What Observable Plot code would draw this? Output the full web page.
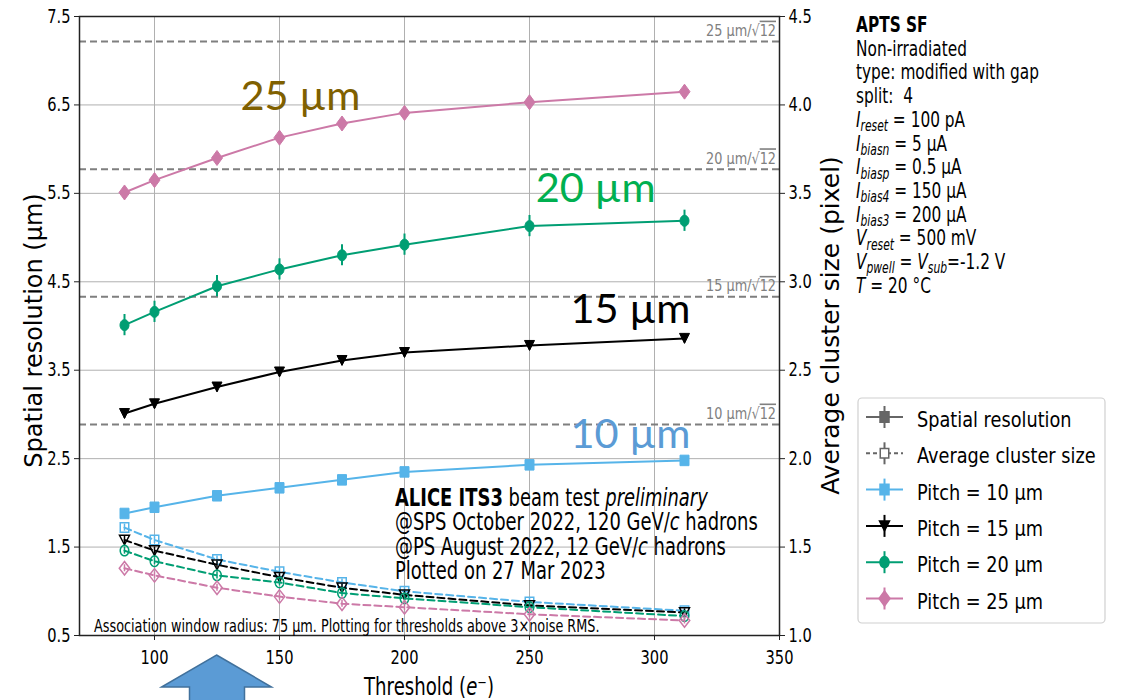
<!DOCTYPE html>
<html>
<head>
<meta charset="utf-8">
<script src="https://cdn.jsdelivr.net/npm/d3@7"></script>
<script src="https://cdn.jsdelivr.net/npm/@observablehq/plot@0.6"></script>
<style>
  html, body { margin: 0; padding: 0; background: #fff; }
  #chart { width: 1122px; height: 700px; overflow: hidden; }
</style>
</head>
<body>
<div id="chart"></div>
<script>
// ---------------- data ----------------
const thresholds = [88, 100, 125, 150, 175, 200, 250, 312];
const pitches = [10, 15, 20, 25];

const resolution10 = [1.88, 1.95, 2.08, 2.17, 2.26, 2.35, 2.43, 2.48];
const resolution15 = [3.01, 3.12, 3.31, 3.48, 3.61, 3.70, 3.78, 3.86];
const resolution20 = [4.01, 4.16, 4.45, 4.64, 4.80, 4.92, 5.13, 5.19];
const resolution25 = [5.51, 5.65, 5.90, 6.13, 6.29, 6.41, 6.53, 6.65];

const resolutionErr10 = [0.04, 0.04, 0.04, 0.04, 0.04, 0.04, 0.04, 0.04];
const resolutionErr15 = [0.05, 0.05, 0.05, 0.05, 0.05, 0.05, 0.05, 0.05];
const resolutionErr20 = [0.12, 0.12, 0.12, 0.12, 0.12, 0.12, 0.12, 0.12];
const resolutionErr25 = [0.06, 0.06, 0.06, 0.06, 0.06, 0.06, 0.06, 0.06];

const clusterSize10 = [1.61, 1.54, 1.43, 1.36, 1.30, 1.25, 1.19, 1.14];
const clusterSize15 = [1.54, 1.48, 1.40, 1.33, 1.27, 1.23, 1.17, 1.13];
const clusterSize20 = [1.48, 1.42, 1.34, 1.30, 1.24, 1.21, 1.16, 1.11];
const clusterSize25 = [1.38, 1.34, 1.27, 1.22, 1.18, 1.16, 1.12, 1.085];
const clusterSizeErr = [0.02, 0.02, 0.02, 0.02, 0.02, 0.02, 0.02, 0.02];

const xTicks = [100, 150, 200, 250, 300, 350];
const resolutionTicks = [0.5, 1.5, 2.5, 3.5, 4.5, 5.5, 6.5, 7.5];
const clusterTicks = [1.0, 1.5, 2.0, 2.5, 3.0, 3.5, 4.0, 4.5];
const limitPitches = [10, 15, 20, 25];          // pitch / sqrt(12) lines
const arrowThreshold = 125;

const pitchLabels = ["10 µm", "15 µm", "20 µm", "25 µm"];
const pitchLabelAnchors = [ // [threshold, resolution] of each label's baseline start
  [266.6, 2.615], [266.6, 4.03], [252.7, 5.40], [134.6, 6.44]
];
const infoLines = [
  [["APTS SF", "b"]],
  [["Non-irradiated"]],
  [["type: modified with gap"]],
  [["split:  4"]],
  [["I", "i"], ["reset", "sub"], [" = 100 pA"]],
  [["I", "i"], ["biasn", "sub"], [" = 5 µA"]],
  [["I", "i"], ["biasp", "sub"], [" = 0.5 µA"]],
  [["I", "i"], ["bias4", "sub"], [" = 150 µA"]],
  [["I", "i"], ["bias3", "sub"], [" = 200 µA"]],
  [["V", "i"], ["reset", "sub"], [" = 500 mV"]],
  [["V", "i"], ["pwell", "sub"], [" = "], ["V", "i"], ["sub", "sub"], ["=-1.2 V"]],
  [["T", "i"], [" = 20 °C"]]
];
const beamLines = [
  [["ALICE ITS3", "b"], [" beam test "], ["preliminary", "i"]],
  [["@SPS October 2022, 120 GeV/"], ["c", "i"], [" hadrons"]],
  [["@PS August 2022, 12 GeV/"], ["c", "i"], [" hadrons"]],
  [["Plotted on 27 Mar 2023"]]
];
const footnote = "Association window radius: 75 µm. Plotting for thresholds above 3×noise RMS.";
const legendLabels = ["Spatial resolution", "Average cluster size", "Pitch = 10 µm", "Pitch = 15 µm", "Pitch = 20 µm", "Pitch = 25 µm"];

// ---------------- setup ----------------
const resDomain = [0.5, 7.5], clsDomain = [1.0, 4.5];
const k = (resDomain[1] - resDomain[0]) / (clsDomain[1] - clsDomain[0]);
const clsToRes = v => resDomain[0] + (v - clsDomain[0]) * k;
const resToCls = v => clsDomain[0] + (v - resDomain[0]) / k;

const colors = {10: "#56b4e9", 15: "#000000", 20: "#009e73", 25: "#cc79a7"};
const labelColors = {10: "#5b9bd5", 15: "#000000", 20: "#00b050", 25: "#7f6000"};

const shape = {
  square: (w, h) => ({draw(c) { c.moveTo(-w/2, -h/2); c.lineTo(w/2, -h/2); c.lineTo(w/2, h/2); c.lineTo(-w/2, h/2); c.closePath(); }}),
  tridown: (w, h) => ({draw(c) { c.moveTo(-w/2, -h/2); c.lineTo(w/2, -h/2); c.lineTo(0, h/2); c.closePath(); }}),
  ellipse: (w, h) => ({draw(c) { for (let i = 0; i < 36; i++) { const a = i / 36 * 2 * Math.PI; const px = w/2 * Math.cos(a), py = h/2 * Math.sin(a); if (i) c.lineTo(px, py); else c.moveTo(px, py); } c.closePath(); }}),
  diamond: (w, h) => ({draw(c) { c.moveTo(0, -h/2); c.lineTo(w/2, 0); c.lineTo(0, h/2); c.lineTo(-w/2, 0); c.closePath(); }})
};
const filledSym = {10: shape.square(9, 10.5), 15: shape.tridown(10, 10), 20: shape.ellipse(9, 11), 25: shape.diamond(11, 15)};
const openSym = {10: shape.square(8.5, 9.5), 15: shape.tridown(10, 9.5), 20: shape.ellipse(8.5, 10.5), 25: shape.diamond(10.5, 13.5)};

const series = [
  {pitch: 10, res: resolution10, err: resolutionErr10, cls: clusterSize10},
  {pitch: 15, res: resolution15, err: resolutionErr15, cls: clusterSize15},
  {pitch: 20, res: resolution20, err: resolutionErr20, cls: clusterSize20},
  {pitch: 25, res: resolution25, err: resolutionErr25, cls: clusterSize25}
];
const rows = series.flatMap(s => thresholds.map((t, i) => ({
  pitch: s.pitch, t, res: s.res[i], err: s.err[i], cls: s.cls[i], clsErr: clusterSizeErr[i]
})));

const dataMarks = series.flatMap(s => {
  const d = rows.filter(r => r.pitch === s.pitch);
  const c = colors[s.pitch];
  return [
    Plot.line(d, {x: "t", y: "res", stroke: c, strokeWidth: 2}),
    Plot.ruleX(d, {x: "t", y1: r => r.res - r.err, y2: r => r.res + r.err, stroke: c, strokeWidth: 2}),
    Plot.dot(d, {x: "t", y: "res", symbol: filledSym[s.pitch], fill: c, stroke: c, strokeWidth: 1}),
    Plot.line(d, {x: "t", y: r => clsToRes(r.cls), stroke: c, strokeWidth: 2, strokeDasharray: "7,4"}),
    Plot.ruleX(d, {x: "t", y1: r => clsToRes(r.cls - r.clsErr), y2: r => clsToRes(r.cls + r.clsErr), stroke: c, strokeWidth: 1.5}),
    Plot.dot(d, {x: "t", y: r => clsToRes(r.cls), symbol: openSym[s.pitch], fill: "none", stroke: c, strokeWidth: 1.5})
  ];
});

const plot = Plot.plot({
  width: 1122, height: 700,
  marginLeft: 79, marginRight: 343, marginTop: 16, marginBottom: 65,
  x: {domain: [70, 350], axis: null},
  y: {domain: resDomain, axis: null},
  style: {fontFamily: "DejaVu Sans", fontSize: "19px", background: "#fff", color: "#000", overflow: "visible"},
  marks: [
    Plot.gridX(xTicks, {stroke: "#b0b0b0", strokeOpacity: 1, strokeWidth: 1}),
    Plot.gridY(resolutionTicks, {stroke: "#b0b0b0", strokeOpacity: 1, strokeWidth: 1}),
    Plot.ruleY(limitPitches, {y: p => p / Math.sqrt(12), stroke: "#7f7f7f", strokeWidth: 2, strokeDasharray: "7,4"}),
    ...dataMarks,
    Plot.axisX(xTicks, {tickSize: 5, tickPadding: 10, label: null, stroke: "#222"}),
    Plot.axisY(resolutionTicks, {anchor: "left", tickSize: 5, tickPadding: 4, tickFormat: d => d.toFixed(1), label: null, stroke: "#222"}),
    Plot.axisY(clusterTicks.map(clsToRes), {anchor: "right", tickSize: 5, tickPadding: 4, tickFormat: d => resToCls(d).toFixed(1), label: null, stroke: "#222"}),
    Plot.frame({stroke: "#222", strokeWidth: 1.5})
  ]
});
document.getElementById("chart").append(plot);

const svg = d3.select(plot);
const xs = plot.scale("x"), ys = plot.scale("y");
const X = v => xs.apply(v), Y = v => ys.apply(v);

// condense tick labels (reference text is horizontally narrow)
{
  const tickTexts = svg.selectAll('g[aria-label$="tick label"] text').nodes();
  let sx = 0.77;
  const t100 = tickTexts.find(n => n.textContent === "100");
  if (t100) { const L = t100.getComputedTextLength(); if (L > 0) sx = 28 / L; }
  tickTexts.forEach(n => {
    const t = n.getAttribute("transform") || "";
    n.setAttribute("transform", (t + ` scale(${sx},1)`).trim());
  });
}

// rich text helper
function richLine(parent, size, segments, opts = {}) {
  const g = parent.append("g");
  const t = g.append("text")
    .attr("font-family", opts.family || "DejaVu Sans")
    .attr("font-size", size)
    .attr("fill", opts.fill || "#000")
    .attr("text-anchor", opts.anchor || "start")
    .style("white-space", "pre");
  let shift = 0;
  for (const [str, st] of segments) {
    const ts = t.append("tspan").text(str);
    let target = 0;
    if (st === "b") ts.attr("font-weight", "bold");
    if (st === "i") ts.attr("font-style", "italic");
    if (st === "sub") { ts.attr("font-style", "italic").attr("font-size", size * 0.7); target = size * 0.2; }
    if (target !== shift) { ts.attr("dy", target - shift); shift = target; }
  }
  return {g, t, len: () => t.node().getComputedTextLength()};
}
function block(lines, x, y0, step, size, fitIndex, fitWidth, opts = {}) {
  const items = lines.map(l => richLine(svg, size, l, opts));
  const sx = fitWidth / items[fitIndex].len();
  items.forEach((it, i) => it.g.attr("transform", `translate(${x},${y0 + i * step}) scale(${sx},1)`));
  return items;
}

// pitch/sqrt(12) labels
limitPitches.forEach(p => {
  const it = richLine(svg, 16, [[`${p} µm/√`], ["12"]], {fill: "#808080", anchor: "end"});
  it.t.selectAll("tspan").filter((d, i) => i === 1).style("text-decoration", "overline");
  const sx = 70 / it.len();
  it.g.attr("transform", `translate(${X(350) - 3},${Y(p / Math.sqrt(12)) - 5}) scale(${sx},1)`);
});

// big pitch labels
pitches.forEach((p, i) => {
  const it = richLine(svg, 40, [[pitchLabels[i]]], {family: "Lato", fill: labelColors[p]});
  const sx = 120 / it.len();
  const [tx, tv] = pitchLabelAnchors[i];
  it.g.attr("transform", `translate(${X(tx)},${Y(tv)}) scale(${sx},1)`);
});

// beam test annotation and footnote
block(beamLines, 395, 506, 24.4, 24, 1, 363);
block([[[footnote]]], 94, 632, 0, 17, 0, 506);

// axis labels
{
  const it = richLine(svg, 25, [["Threshold ("], ["e", "i"], ["⁻"], [")"]], {anchor: "middle"});
  const sx = 130 / it.len();
  it.g.attr("transform", `translate(${(X(70) + X(350)) / 2},695) scale(${sx},1)`);
  const yl = richLine(svg, 24, [["Spatial resolution (µm)"]], {anchor: "middle"});
  yl.g.attr("transform", `translate(41.5,${(Y(0.5) + Y(7.5)) / 2 + 5}) rotate(-90)`);
  const yr = richLine(svg, 25, [["Average cluster size (pixel)"]], {anchor: "middle"});
  yr.g.attr("transform", `translate(839,${(Y(0.5) + Y(7.5)) / 2}) rotate(-90)`);
}

// info text block (top right)
block(infoLines, 856, 32, 23.7, 22, 2, 183);

// legend
{
  const lx = 858, ly = 398, lw = 247, lh = 225;
  svg.append("rect").attr("x", lx).attr("y", ly).attr("width", lw).attr("height", lh)
    .attr("rx", 4).attr("fill", "#fff").attr("stroke", "#d0d0d0").attr("stroke-width", 1.2);
  const handles = [
    {color: "#666666", dash: null, sym: shape.square(9, 10.5), fill: true},
    {color: "#666666", dash: "4,3", sym: shape.square(8.5, 9.5), fill: false},
    {color: colors[10], dash: null, sym: filledSym[10], fill: true},
    {color: colors[15], dash: null, sym: filledSym[15], fill: true},
    {color: colors[20], dash: null, sym: filledSym[20], fill: true},
    {color: colors[25], dash: null, sym: filledSym[25], fill: true}
  ];
  const items = legendLabels.map(l => richLine(svg, 21, [[l]]));
  const sx = 126 / items[2].len();
  handles.forEach((h, i) => {
    const cy = 417 + i * 36.3;
    svg.append("line").attr("x1", 866).attr("x2", 903).attr("y1", cy).attr("y2", cy)
      .attr("stroke", h.color).attr("stroke-width", 2).attr("stroke-dasharray", h.dash);
    svg.append("line").attr("x1", 884.5).attr("x2", 884.5).attr("y1", cy - 11).attr("y2", cy + 11)
      .attr("stroke", h.color).attr("stroke-width", 2);
    const p = d3.path(); h.sym.draw(p);
    svg.append("path").attr("d", p.toString()).attr("transform", `translate(884.5,${cy})`)
      .attr("fill", h.fill ? h.color : "#fff").attr("stroke", h.color).attr("stroke-width", 1.5);
    items[i].g.attr("transform", `translate(917,${cy + 10}) scale(${sx},1)`);
  });
}

// arrow pointing at the highlighted threshold
{
  const ax = X(arrowThreshold);
  const d = `M${ax},655 L${ax + 55},687 L${ax + 28},687 L${ax + 28},706 L${ax - 27},706 L${ax - 27},687 L${ax - 55},687 Z`;
  svg.append("path").attr("d", d).attr("fill", "#5b9bd5").attr("stroke", "#41719c").attr("stroke-width", 1.5);
}
</script>
</body>
</html>
